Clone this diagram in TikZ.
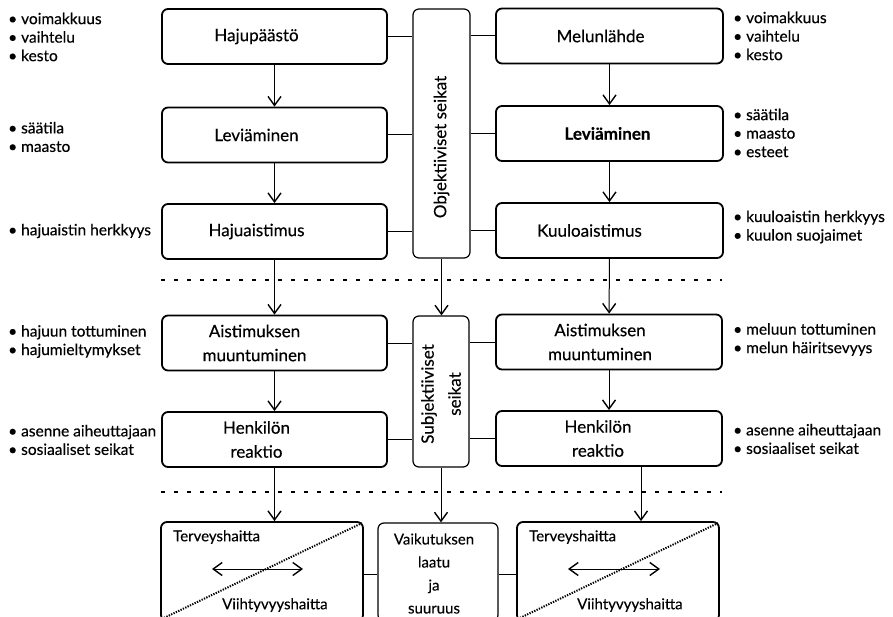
\documentclass[tikz,border=0pt]{standalone}
\usepackage{fontspec}
\setmainfont{Lato}[FakeBold=0.35]
\usetikzlibrary{arrows.meta,calc}
\begin{document}
\begin{tikzpicture}[x=1pt,y=-1pt,
 box/.style={draw,line width=1.8pt,rounded corners=6pt,minimum width=225pt,minimum height=55pt,inner sep=0pt},
 lbl/.style={font=\fontsize{17}{24}\selectfont,align=center,inner sep=0pt},
 tall/.style={draw,line width=1.2pt,rounded corners=6pt,inner sep=0pt},
 vtext/.style={rotate=90,font=\fontsize{17}{27}\selectfont,align=center,inner sep=0pt},
 btxt/.style={font=\fontsize{15}{23}\selectfont,inner sep=0pt,align=center},
 conn/.style={line width=1pt},
 arr/.style={line width=1pt,-{Straight Barb[length=9pt,width=13pt,line width=1.4pt]}},
 darr/.style={line width=1pt,{Straight Barb[length=9pt,width=13pt,line width=1.4pt]}-{Straight Barb[length=9pt,width=13pt,line width=1.4pt]}},
 sep/.style={line width=1.2pt,dash pattern=on 4pt off 9pt},
 diag/.style={line width=2pt,dash pattern=on 1.3pt off 1.3pt},
 lst/.style={anchor=west,align=left,inner sep=0pt,font=\fontsize{15.5}{18.5}\selectfont},
]
\useasboundingbox (0,0) rectangle (893,617);
\clip (0,0) rectangle (893,617);

% upper left column
\node[box,label={[lbl,xshift=-18pt]center:Hajupäästö}] (hp) at (274.5,36.5) {};
\node[box,label={[lbl,xshift=-18pt]center:Leviäminen}] (lv1) at (274.5,135) {};
\node[box,label={[lbl,xshift=-18pt]center:Hajuaistimus}] (ha) at (274.5,231.5) {};
% objective box
\node[tall,minimum width=57pt,minimum height=249pt] (obj) at (441.5,133.5) {};
\node[vtext] (objt) at (441.5,147) {Objektiiviset seikat};
% upper right column
\node[box,minimum width=227pt,label={[lbl,xshift=-9pt]center:Melunlähde}] (ml) at (609.5,36) {};
\node[box,minimum width=227pt,label={[lbl,xshift=-2pt,font=\fontsize{17}{24}\selectfont\bfseries]center:Leviäminen}] (lv2) at (609.5,133.5) {};
\node[box,minimum width=227pt,label={[lbl,xshift=-20pt]center:Kuuloaistimus}] (ka) at (609.5,230.5) {};

% lower left
\node[box,label={[lbl,xshift=-20pt]center:{Aistimuksen\\muuntuminen}}] (am1) at (274.5,343) {};
\node[box,label={[lbl,xshift=-18pt]center:{Henkilön\\reaktio}}] (hr1) at (274.5,439.5) {};
% subjective box
\node[tall,minimum width=56pt,minimum height=151pt] (subj) at (441,391.5) {};
\node[vtext] (subjt) at (441,394) {Subjektiiviset\\seikat};
% lower right
\node[box,minimum width=226pt,label={[lbl,xshift=-9pt]center:{Aistimuksen\\muuntuminen}}] (am2) at (609,342) {};
\node[box,minimum width=226pt,label={[lbl,xshift=-11pt]center:{Henkilön\\reaktio}}] (hr2) at (609,438.5) {};

% bottom boxes
\node[box,minimum width=202pt,minimum height=99pt] (bl) at (262,571.5) {};
\node[tall,minimum width=120pt,minimum height=98pt] (bm) at (438,572) {};
\node[box,minimum width=202pt,minimum height=99pt] (br) at (618,571.5) {};

\node[btxt,anchor=west] (tl) at (173,537) {Terveyshaitta};
\node[btxt,anchor=west] (vl) at (222,605) {Viihtyvyyshaitta};
\node[btxt,anchor=west] (tr) at (529,537) {Terveyshaitta};
\node[btxt,anchor=west] (vr) at (577,605) {Viihtyvyyshaitta};
\node[btxt] (vk) at (434,573.5) {Vaikutuksen\\laatu\\ja\\suuruus};

\draw[diag] ($(bl.south west)+(4,-4)$) -- ($(bl.north east)+(-2,2)$);
\draw[diag] ($(br.south west)+(4,-4)$) -- ($(br.north east)+(-2,2)$);

\coordinate (dal) at (212,569);
\coordinate (dar) at (303,569);
\coordinate (dbl) at (568,569);
\coordinate (dbr) at (660,569);
\draw[darr] (dal) -- (dar);
\draw[darr] (dbl) -- (dbr);

% separators
\coordinate (s1a) at (161,280);
\coordinate (s1b) at (722,280);
\coordinate (s2a) at (161,492);
\coordinate (s2b) at (722,492);
\draw[sep] (s1a) -- (s1b);
\draw[sep] (s2a) -- (s2b);

% vertical arrows
\draw[arr] (hp) -- (lv1);
\draw[arr] (lv1) -- (ha);
\draw[arr] (ha) -- (am1);
\draw[arr] (am1) -- (hr1);
\draw[arr] (hr1.south) -- (hr1.south |- bl.north);
\draw[arr] (ml) -- (lv2);
\draw[arr] (lv2) -- (ka);
\draw[arr] (ka) -- (am2);
\draw[arr] (am2) -- (hr2);
\coordinate (rx) at (641,0);
\draw[arr] (hr2.south -| rx) -- (br.north -| rx);
\draw[arr] (obj.south) -- (obj.south |- subj.north);
\draw[arr] (subj.south) -- (subj.south |- bm.north);

% horizontal connectors
\draw[conn] (hp.east) -- (hp.east -| obj.west);
\draw[conn] (lv1.east) -- (lv1.east -| obj.west);
\draw[conn] (ha.east) -- (ha.east -| obj.west);
\draw[conn] (ml.west) -- (ml.west -| obj.east);
\draw[conn] (lv2.west) -- (lv2.west -| obj.east);
\draw[conn] (ka.west) -- (ka.west -| obj.east);
\draw[conn] (am1.east) -- (am1.east -| subj.west);
\draw[conn] (hr1.east) -- (hr1.east -| subj.west);
\draw[conn] (am2.west) -- (am2.west -| subj.east);
\draw[conn] (hr2.west) -- (hr2.west -| subj.east);
\coordinate (cy) at (0,574);
\draw[conn] (bl.east |- cy) -- (bm.west |- cy);
\draw[conn] (bm.east |- cy) -- (br.west |- cy);

% bullet lists
\node[lst] (L1) at (8,37) {• voimakkuus\\• vaihtelu\\• kesto};
\node[lst] (L2) at (8,137) {• säätila\\• maasto};
\node[lst] (L3) at (8,231) {• hajuaistin herkkyys};
\node[lst] (L4) at (8,341.5) {• hajuun tottuminen\\• hajumieltymykset};
\node[lst] (L5) at (8,440) {• asenne aiheuttajaan\\• sosiaaliset seikat};
\node[lst] (R1) at (733,36) {• voimakkuus\\• vaihtelu\\• kesto};
\node[lst] (R2) at (733,133) {• säätila\\• maasto\\• esteet};
\node[lst] (R3) at (733,227) {• kuuloaistin herkkyys\\• kuulon suojaimet};
\node[lst] (R4) at (733,339.5) {• meluun tottuminen\\• melun häiritsevyys};
\node[lst] (R5) at (733,439) {• asenne aiheuttajaan\\• sosiaaliset seikat};
\end{tikzpicture}
\end{document}
